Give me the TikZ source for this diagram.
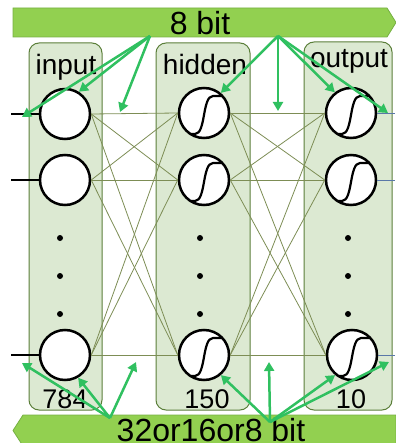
\documentclass[tikz,border=0pt]{standalone}
\usepackage{fontspec}
\setmainfont{Liberation Sans}
\usetikzlibrary{arrows.meta,positioning}

\definecolor{bitgreen}{HTML}{92D050}
\definecolor{bitedge}{HTML}{76B043}
\definecolor{layerfill}{HTML}{DCE9D2}
\definecolor{layeredge}{HTML}{5B7F3A}
\definecolor{wiregreen}{HTML}{7D8D55}
\definecolor{arrowgreen}{HTML}{30C060}
\definecolor{outwire}{HTML}{5A78A8}

\tikzset{
layer/.style={draw=layeredge, fill=layerfill, rounded corners=10pt, line width=1pt},
banner/.style={draw=bitedge, fill=bitgreen, line width=0.8pt},
neuron/.style={circle, draw, line width=2.5pt, fill=white, minimum size=50pt, inner sep=0pt},
wire/.style={draw=wiregreen, line width=0.8pt},
bitarrow/.style={draw=arrowgreen, line width=2.5pt, -{Triangle[length=9pt,width=10pt]}},
sigline/.style={line width=2.2pt},
dot/.style={circle, fill, inner sep=0pt, minimum size=6pt},
lbl/.style={font=\fontsize{28}{30}\selectfont, anchor=base},
bits/.style={font=\fontsize{32}{34}\selectfont, anchor=base}
}

\begin{document}
\begin{tikzpicture}[x=1pt,y=-1pt]
\useasboundingbox (0,0) rectangle (395,443);

% layers
\draw[layer] (29,43) rectangle (102,410);
\draw[layer] (156,43) rectangle (250,410);
\draw[layer] (304,42) rectangle (392,410);

\node[lbl] (inlbl) at (66,75) {input};
\node[lbl] (hidlbl) at (205,75) {hidden};
\node[lbl] (outlbl) at (349,68) {output};
\node[lbl,font=\fontsize{27}{29}\selectfont] (innum) at (65,408) {784};
\node[lbl,font=\fontsize{27}{29}\selectfont] (hidnum) at (207,408) {150};
\node[lbl,font=\fontsize{27}{29}\selectfont] (outnum) at (351,408) {10};

% neurons
\node[neuron] (in1) at (65,114) {};
\node[neuron] (in2) at (65,180) {};
\node[neuron] (in3) at (65,355) {};
\node[neuron] (hid1) at (204,113) {};
\node[neuron] (hid2) at (204,180) {};
\node[neuron] (hid3) at (204,355) {};
\node[neuron] (out1) at (351,113) {};
\node[neuron] (out2) at (351,180) {};
\node[neuron] (out3) at (352,355) {};

\foreach \x/\n in {60/in,200/hid,348/out}{
\node[dot] (\n dot1) at (\x,238) {};
\node[dot] (\n dot2) at (\x,276) {};
\node[dot] (\n dot3) at (\x,314) {};
}

% sigmoid inside hidden and output units
\foreach \n in {hid1,hid2,hid3,out1,out2,out3}
\draw[sigline,shift={(\n)}] (-13,21) -- (-9,21) .. controls (2,21) and (-2,-17) .. (9,-17) -- (18,-17);

% connections
\foreach \i in {1,2,3}{
\foreach \j in {1,2,3}{
\draw[wire] (in\i.east) -- (hid\j.west);
\draw[wire] (hid\i.east) -- (out\j.west);
}
}

\coordinate (inend1) at (11,114);
\coordinate (inend2) at (11,180);
\coordinate (inend3) at (11,355);
\foreach \i in {1,2,3}
\draw[line width=1.5pt] (inend\i) -- (in\i.west);

\coordinate (outend1) at (395,113);
\coordinate (outend2) at (395,180);
\coordinate (outend3) at (395,355);
\foreach \i in {1,2,3}
\draw[outwire, line width=0.8pt] (out\i.east) -- (outend\i);

% bit width banners
\draw[banner] (13,8) -- (387,8) -- (396,22.5) -- (387,37) -- (13,37) -- cycle;
\node[bits] (topbits) at (200,35) {8 bit};
\draw[banner] (23,415) -- (396,415) -- (396,446) -- (23,446) -- (13,430.5) -- cycle;
\node[bits] (botbits) at (211,441) {32or16or8 bit};

% arrows
\coordinate (topA) at (150,36);
\coordinate (topB) at (278,36);
\coordinate (botA) at (110,418);
\coordinate (botB) at (270,422);

\draw[bitarrow] (topA) -- (22,117);
\draw[bitarrow] (topA) -- (in1.58);
\draw[bitarrow] (topA) -- (120,112);
\draw[bitarrow] (topB) -- (hid1.50);
\draw[bitarrow] (topB) -- (278,111);
\draw[bitarrow] (topB) -- (out1.128);
\draw[bitarrow] (topB) -- (388,113);

\draw[bitarrow] (botA) -- (22,363);
\draw[bitarrow] (botA) -- (in3.-60);
\draw[bitarrow] (botA) -- (136,362);
\draw[bitarrow] (botB) -- (hid3.-50);
\draw[bitarrow] (botB) -- (269,362);
\draw[bitarrow] (botB) -- (out3.-130);
\draw[bitarrow] (botB) -- (389,362);

\end{tikzpicture}
\end{document}
